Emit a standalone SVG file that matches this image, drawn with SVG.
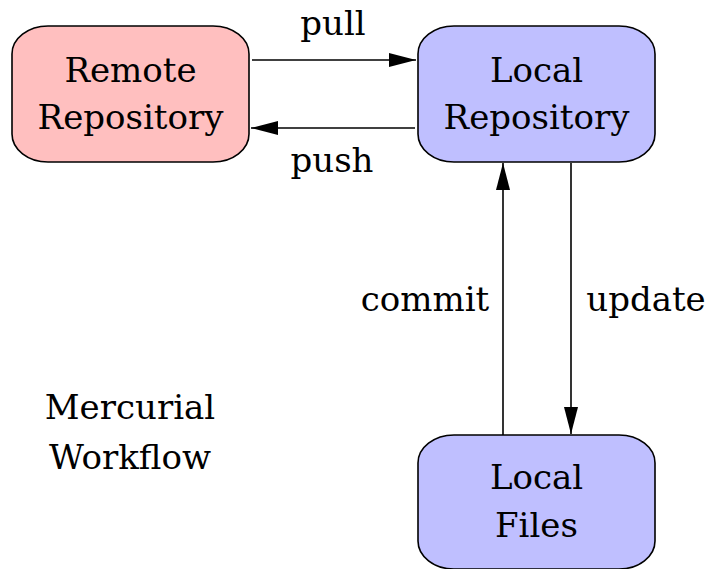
<svg xmlns="http://www.w3.org/2000/svg" width="711" height="569" viewBox="0 0 711 569">
<style>
text{font-family:'DejaVu Serif',serif;font-size:34px;fill:#000;text-anchor:middle}
.box{stroke:#000;stroke-width:1.6}
.remote{fill:#FFBFBF}
.local{fill:#BFBFFF}
.edge{stroke:#000;stroke-width:1.6;fill:none}
</style>
<defs>
<marker id="arr" markerUnits="userSpaceOnUse" markerWidth="28" markerHeight="16" refX="27" refY="7" orient="auto" viewBox="0 0 28 14">
<path d="M0,0 L27,7 L0,14 Z" fill="#000"/>
</marker>
</defs>
<rect width="711" height="569" fill="#fff"/>
<g id="remote">
<rect class="box remote" x="12" y="26" width="237" height="136" rx="36" ry="28"/>
<text x="130.5" y="82">Remote</text>
<text x="130.5" y="129">Repository</text>
</g>
<g id="localrepo">
<rect class="box local" x="418" y="26" width="237" height="136" rx="36" ry="28"/>
<text x="536.5" y="82">Local</text>
<text x="536.5" y="129">Repository</text>
</g>
<g id="localfiles">
<rect class="box local" x="418" y="435" width="237" height="134" rx="36" ry="28"/>
<text x="536.5" y="489">Local</text>
<text x="536.5" y="537">Files</text>
</g>
<g id="title">
<text x="130" y="419">Mercurial</text>
<text x="130" y="469">Workflow</text>
</g>
<g id="connectors">
<line class="edge" x1="252" y1="60" x2="416" y2="60" marker-end="url(#arr)"/>
<line class="edge" x1="415" y1="128" x2="251" y2="128" marker-end="url(#arr)"/>
<line class="edge" x1="503" y1="435" x2="503" y2="163" marker-end="url(#arr)"/>
<line class="edge" x1="571" y1="163" x2="571" y2="434" marker-end="url(#arr)"/>
<text x="333" y="35">pull</text>
<text x="332" y="172">push</text>
<text x="425" y="311">commit</text>
<text x="646" y="311">update</text>
</g>
</svg>
